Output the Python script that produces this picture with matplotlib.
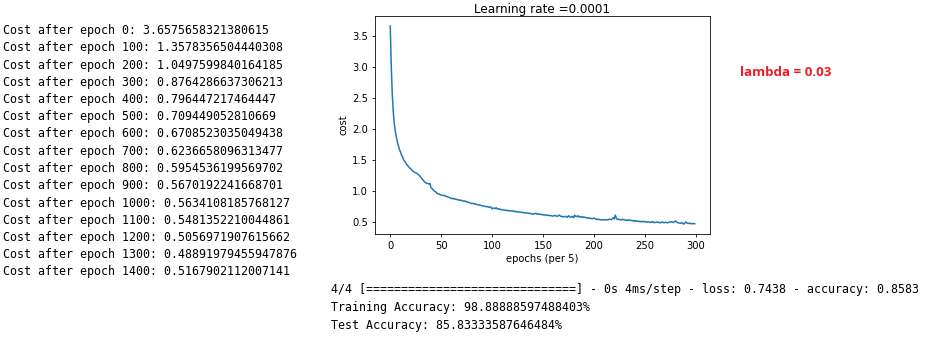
import numpy as np
import matplotlib.pyplot as plt

# printed training log (every 100 epochs)
log_epochs = [0, 100, 200, 300, 400, 500, 600, 700, 800, 900, 1000, 1100, 1200, 1300, 1400]
log_costs = ["3.6575658321380615", "1.3578356504440308", "1.0497599840164185",
             "0.8764286637306213", "0.796447217464447", "0.709449052810669",
             "0.6708523035049438", "0.6236658096313477", "0.5954536199569702",
             "0.5670192241668701", "0.5634108185768127", "0.5481352210044861",
             "0.5056971907615662", "0.48891979455947876", "0.5167902112007141"]

# cost recorded every 5 epochs
costs = [
    3.658, 3.02, 2.56, 2.27, 2.08, 1.96, 1.87, 1.79, 1.73, 1.67,
    1.63, 1.58, 1.55, 1.51, 1.48, 1.46, 1.43, 1.41, 1.39, 1.37,
    1.358, 1.34, 1.32, 1.31, 1.30, 1.29, 1.285, 1.27, 1.26, 1.24,
    1.22, 1.20, 1.18, 1.16, 1.14, 1.13, 1.12, 1.12, 1.11, 1.12,
    1.05, 1.04, 1.02, 1.00, 0.99, 0.98, 0.96, 0.95, 0.95, 0.94,
    0.935, 0.93, 0.925, 0.93, 0.915, 0.91, 0.905, 0.90, 0.895, 0.885,
    0.876, 0.88, 0.87, 0.875, 0.865, 0.86, 0.865, 0.85, 0.855, 0.845,
    0.85, 0.84, 0.835, 0.84, 0.825, 0.83, 0.82, 0.815, 0.81, 0.805,
    0.796, 0.80, 0.79, 0.795, 0.785, 0.78, 0.775, 0.77, 0.775, 0.765,
    0.76, 0.755, 0.76, 0.75, 0.745, 0.75, 0.74, 0.735, 0.745, 0.735,
    0.709, 0.725, 0.72, 0.715, 0.73, 0.71, 0.705, 0.715, 0.70, 0.695,
    0.70, 0.69, 0.695, 0.685, 0.69, 0.68, 0.685, 0.675, 0.68, 0.675,
    0.671, 0.68, 0.665, 0.67, 0.66, 0.665, 0.66, 0.655, 0.66, 0.65,
    0.655, 0.645, 0.65, 0.645, 0.64, 0.645, 0.635, 0.64, 0.635, 0.63,
    0.624, 0.635, 0.63, 0.64, 0.625, 0.63, 0.62, 0.625, 0.62, 0.615,
    0.62, 0.61, 0.615, 0.61, 0.605, 0.61, 0.60, 0.605, 0.60, 0.595,
    0.595, 0.60, 0.605, 0.595, 0.59, 0.60, 0.61, 0.595, 0.585, 0.59,
    0.58, 0.585, 0.59, 0.58, 0.575, 0.60, 0.585, 0.575, 0.58, 0.59,
    0.567, 0.61, 0.59, 0.585, 0.60, 0.58, 0.59, 0.575, 0.585, 0.57,
    0.58, 0.575, 0.565, 0.57, 0.56, 0.565, 0.555, 0.56, 0.55, 0.555,
    0.563, 0.55, 0.545, 0.54, 0.545, 0.535, 0.54, 0.53, 0.535, 0.54,
    0.53, 0.535, 0.54, 0.53, 0.535, 0.545, 0.54, 0.535, 0.55, 0.565,
    0.548, 0.61, 0.56, 0.54, 0.545, 0.535, 0.54, 0.53, 0.545, 0.535,
    0.54, 0.525, 0.53, 0.52, 0.535, 0.525, 0.53, 0.52, 0.515, 0.525,
    0.506, 0.52, 0.51, 0.515, 0.505, 0.51, 0.50, 0.51, 0.505, 0.50,
    0.51, 0.50, 0.495, 0.505, 0.50, 0.49, 0.50, 0.495, 0.505, 0.49,
    0.489, 0.495, 0.50, 0.49, 0.495, 0.485, 0.49, 0.50, 0.49, 0.485,
    0.495, 0.49, 0.485, 0.49, 0.50, 0.495, 0.505, 0.50, 0.49, 0.505,
    0.517, 0.50, 0.49, 0.485, 0.48, 0.475, 0.49, 0.48, 0.465, 0.475,
    0.50, 0.485, 0.48, 0.475, 0.48, 0.47, 0.475, 0.47, 0.475, 0.47,
]

learning_rate = "0.0001"
lambd = "0.03"
eval_lines = [
    "4/4 [==============================] - 0s 4ms/step - loss: 0.7438 - accuracy: 0.8583",
    "Training Accuracy: 98.88888597488403%",
    "Test Accuracy: 85.83333587646484%",
]

W, H = 925, 338
fig = plt.figure(figsize=(W / 100, H / 100), dpi=100)

ax = fig.add_axes([375 / W, 1 - 234 / H, 335 / W, 218 / H])
ax.plot(np.arange(len(costs)), costs, color='#1f77b4', lw=1.08)
ax.set_title("Learning rate =" + learning_rate, fontsize=8.64, pad=2.5)
ax.set_xlabel("epochs (per 5)", fontsize=7.2, labelpad=2.5)
ax.set_ylabel("cost", fontsize=7.2, labelpad=2.5)
ax.tick_params(labelsize=7.2, length=2.5, width=0.58, pad=2.5)
for s in ax.spines.values():
    s.set_linewidth(0.58)

mono = dict(family='DejaVu Sans Mono', fontsize=8.35, color='black', va='center', ha='left')

# training log on the left
for i, (ep, c) in enumerate(zip(log_epochs, log_costs)):
    y = 30.5 + i * 17.25
    fig.text(3 / W, 1 - y / H, "Cost after epoch %d: %s" % (ep, c), **mono)

# evaluation output below the plot
for i, line in enumerate(eval_lines):
    fig.text(331 / W, 1 - (290 + i * 17.5) / H, line, **mono)

fig.text(740 / W, 1 - 72 / H, "lambda = " + lambd, family=['Open Sans', 'DejaVu Sans'],
         fontweight='bold', fontsize=9.6, color='#ee1c25', va='center', ha='left')

fig.savefig("out.png", dpi=100)
